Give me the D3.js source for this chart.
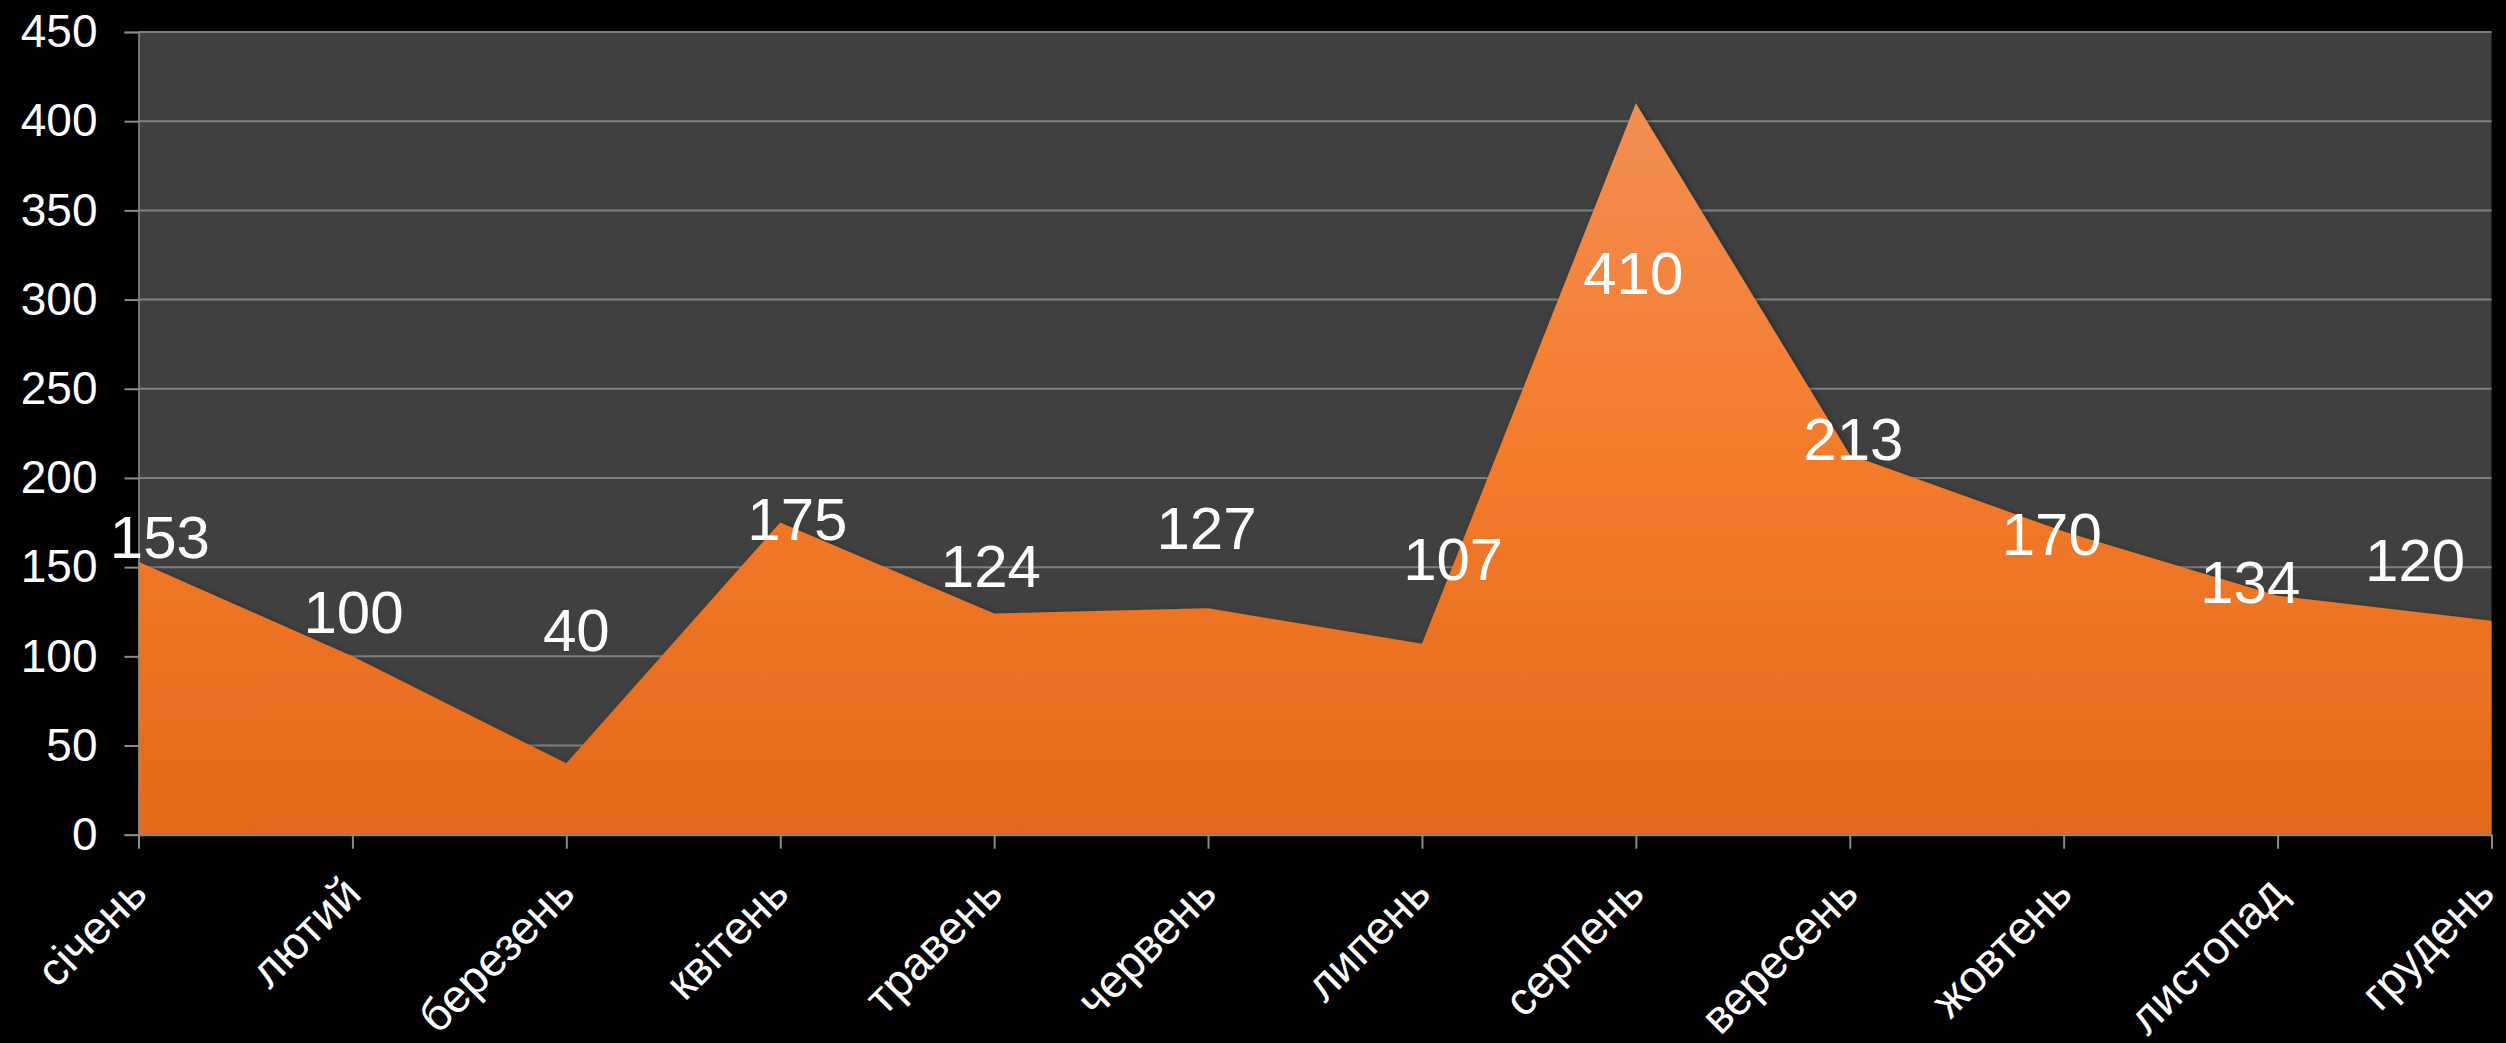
<!DOCTYPE html>
<html>
<head>
<meta charset="utf-8">
<script src="https://cdn.jsdelivr.net/npm/d3@7"></script>
<style>
  html, body { margin: 0; padding: 0; background: #000; }
  svg { display: block; }
  text { font-family: "Liberation Sans", Arial, sans-serif; }
</style>
</head>
<body>
<svg id="chart" width="2506" height="1043"></svg>
<script>
const categories = ['січень','лютий','березень','квітень','травень','червень','липень','серпень','вересень','жовтень','листопад','грудень'];
const values = [153, 100, 40, 175, 124, 127, 107, 410, 213, 170, 134, 120];
const yTicks = [0, 50, 100, 150, 200, 250, 300, 350, 400, 450];
// data-label anchor level (value units) and horizontal shift (in category steps)
const labelLevel = [167, 125, 115, 177, 151, 172, 155, 315, 222, 169, 142, 154];
const labelShift = [0.10, 0.005, 0.047, 0.08, -0.015, -0.007, 0.146, -0.012, 0.017, -0.056, -0.128, -0.357];

const W = 2506, H = 1043;
const plotLeft = 138.5, plotRight = 2491.5, plotTop = 32, plotBottom = 834.7;

const svg = d3.select('#chart');
svg.append('rect').attr('width', W).attr('height', H).attr('fill', '#000');

const x = d3.scalePoint().domain(categories).range([plotLeft, plotRight]).padding(0);
const y = d3.scaleLinear().domain([0, 450]).range([plotBottom, plotTop]);
const step = x.step();

const defs = svg.append('defs');
const grad = defs.append('linearGradient').attr('id', 'areaGrad')
  .attr('gradientUnits', 'userSpaceOnUse')
  .attr('x1', 0).attr('x2', 0).attr('y1', y(410)).attr('y2', plotBottom);
grad.append('stop').attr('offset', '0%').attr('stop-color', '#F38E55');
grad.append('stop').attr('offset', '45%').attr('stop-color', '#F47C2D');
grad.append('stop').attr('offset', '100%').attr('stop-color', '#E3691A');

const filt = defs.append('filter').attr('id', 'shadow')
  .attr('x', '-5%').attr('y', '-5%').attr('width', '110%').attr('height', '110%');
filt.append('feDropShadow').attr('dx', 2).attr('dy', 2).attr('stdDeviation', 3)
  .attr('flood-color', '#000').attr('flood-opacity', 0.45);

// plot background
svg.append('rect').attr('x', plotLeft).attr('y', plotTop)
  .attr('width', plotRight - plotLeft).attr('height', plotBottom - plotTop).attr('fill', '#404040');

// gridlines
svg.append('g').selectAll('line').data(yTicks.filter(t => t > 0)).join('line')
  .attr('x1', plotLeft).attr('x2', plotRight)
  .attr('y1', d => y(d)).attr('y2', d => y(d))
  .attr('stroke', '#808080').attr('stroke-width', 2);

// area
const area = d3.area()
  .x((d, i) => x(categories[i]))
  .y0(plotBottom)
  .y1(d => y(d));
svg.append('path').datum(values)
  .attr('d', area)
  .attr('fill', 'url(#areaGrad)')
  .attr('filter', 'url(#shadow)');

// y axis
const yAxis = svg.append('g').attr('transform', `translate(${plotLeft},0)`)
  .call(d3.axisLeft(y).tickValues(yTicks).tickSize(14).tickPadding(27).tickFormat(d3.format('d')));
yAxis.select('.domain').attr('stroke', '#8a8a8a').attr('stroke-width', 1.5);
yAxis.selectAll('.tick line').attr('stroke', '#8a8a8a').attr('stroke-width', 2);
yAxis.selectAll('.tick text').attr('fill', '#fff').attr('font-size', 46)
  .attr('font-family', '"Liberation Sans", Arial, sans-serif');

// x axis
const xAxis = svg.append('g').attr('transform', `translate(0,${plotBottom})`)
  .call(d3.axisBottom(x).tickSize(14).tickSizeOuter(0));
xAxis.select('.domain').attr('stroke', '#8a8a8a').attr('stroke-width', 2);
xAxis.selectAll('.tick line').attr('stroke', '#8a8a8a').attr('stroke-width', 2);
xAxis.selectAll('.tick text')
  .attr('fill', '#fff').attr('font-size', 46)
  .attr('font-family', '"Liberation Sans", Arial, sans-serif')
  .attr('text-anchor', 'end')
  .attr('y', 0).attr('dy', '0.35em')
  .attr('transform', 'translate(-1,50) rotate(-45)')
  .each(function() {
    const r = this.getBoundingClientRect();
    const over = r.right - (W - 2);
    if (over > 0) {
      d3.select(this).attr('transform', `translate(${-1 - over},50) rotate(-45)`);
    }
  });

// data labels
svg.append('g').selectAll('text').data(values).join('text')
  .attr('x', (d, i) => x(categories[i]) + labelShift[i] * step)
  .attr('y', (d, i) => y(labelLevel[i]))
  .attr('dy', '0.358em')
  .attr('text-anchor', 'middle')
  .attr('fill', '#fff')
  .attr('font-size', 60)
  .text(d => d);
</script>
</body>
</html>
